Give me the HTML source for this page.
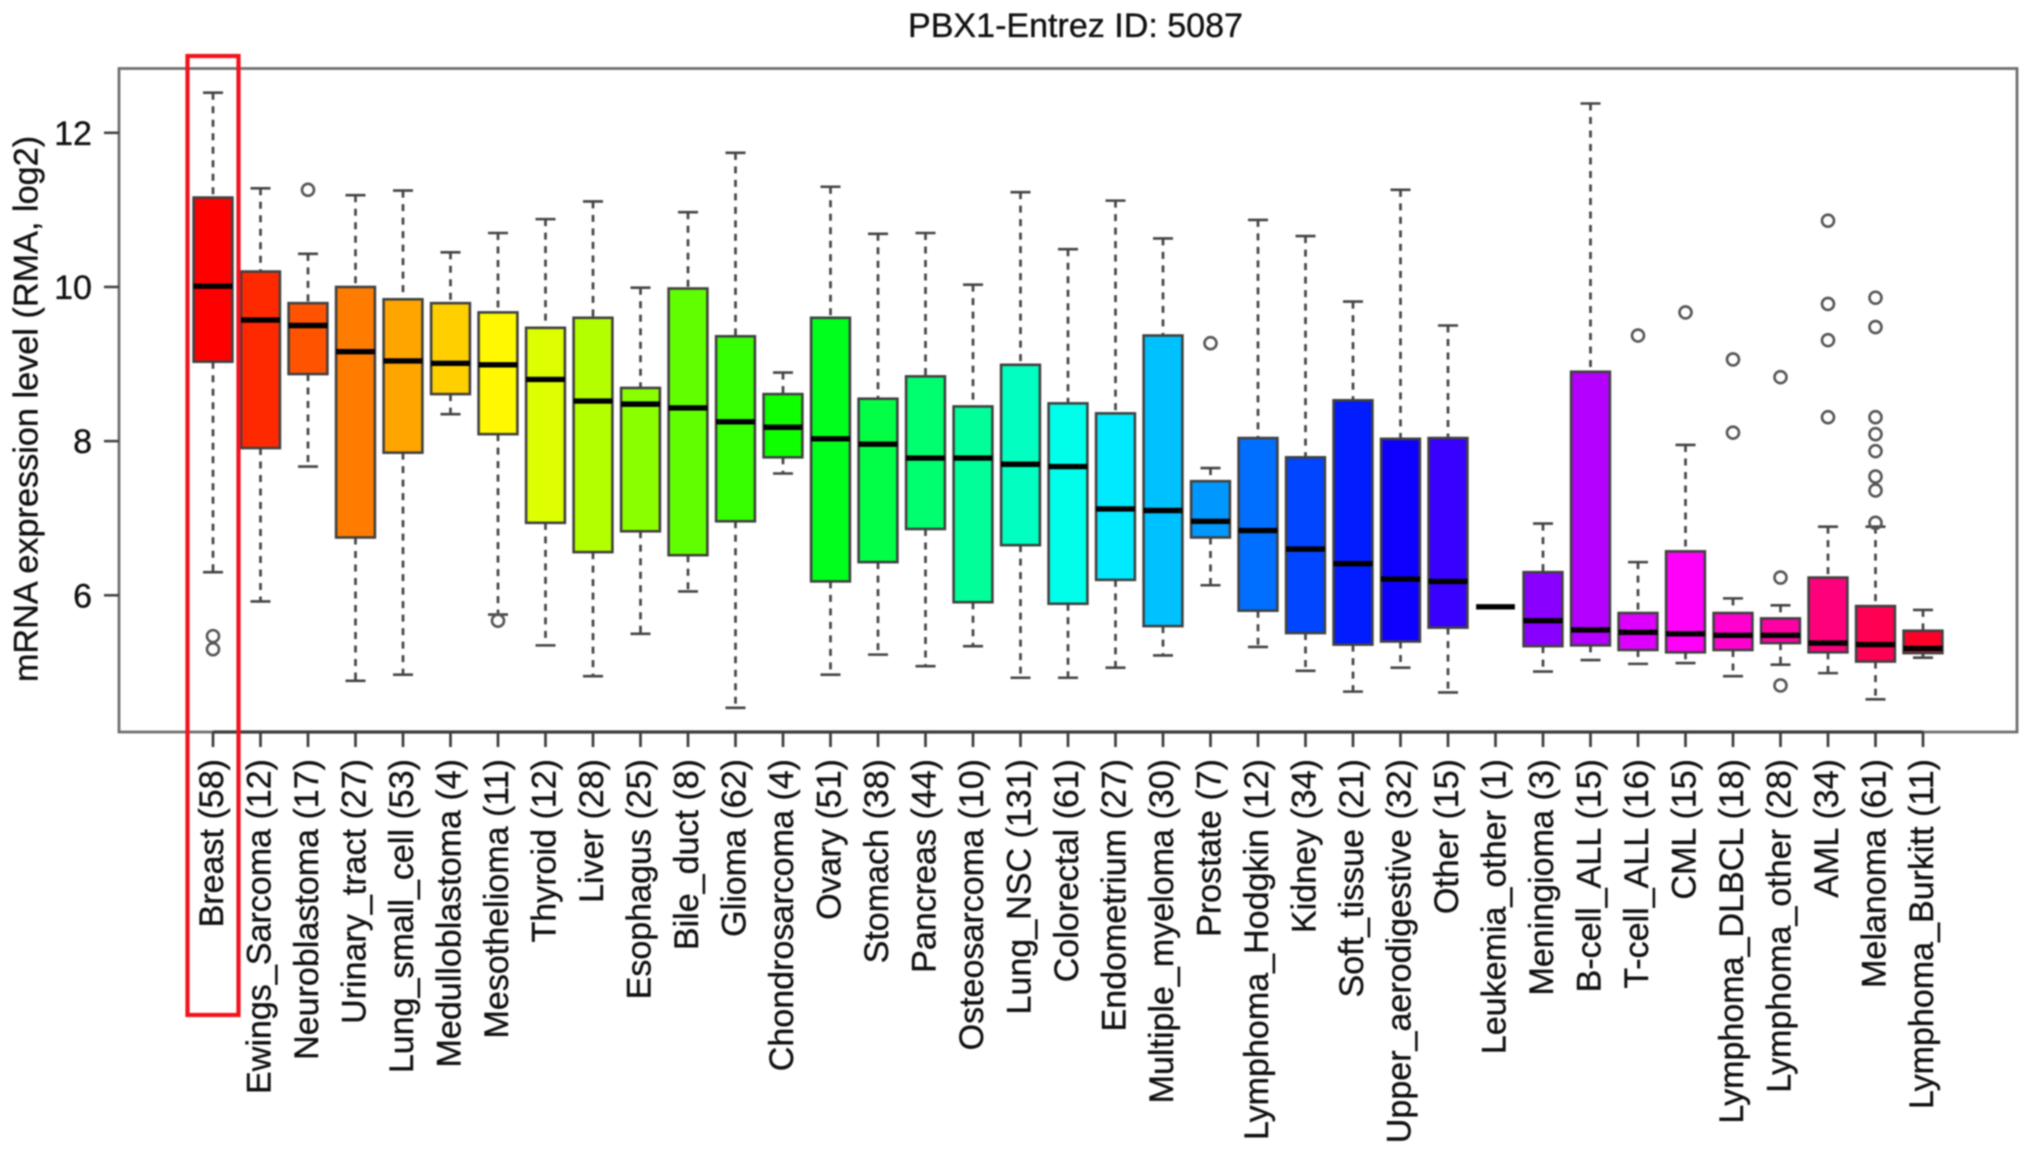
<!DOCTYPE html>
<html lang="en">
<head>
<meta charset="utf-8">
<title>PBX1-Entrez ID: 5087</title>
<style>
  html, body { margin: 0; padding: 0; background: #fff; width: 2032px; height: 1152px; overflow: hidden; }
  svg { display: block; filter: blur(0.7px); }
  text { font-family: "Liberation Sans", sans-serif; font-size: 34.05px; fill: #111; stroke: #111; stroke-width: 0.35px; }
</style>
</head>
<body>
<svg id="chart" xmlns="http://www.w3.org/2000/svg" width="2032" height="1152" viewBox="0 0 2032 1152">
  <rect x="0" y="0" width="2032" height="1152" fill="#fff"/>
  <text x="1075.5" y="37" text-anchor="middle">PBX1-Entrez ID: 5087</text>
  <text transform="translate(37.5 409) rotate(-90)" text-anchor="middle" style="font-size:34.25px">mRNA expression level (RMA, log2)</text>
  <rect x="119" y="68.5" width="1898" height="663.5" fill="none" stroke="#707070" stroke-width="2.8"/>
  <g id="marks"></g>
  <g id="axes"></g>
  <rect x="187.5" y="56" width="51" height="959" fill="none" stroke="#f4121c" stroke-width="4.2"/>
</svg>
<script>
const categories = ["Breast","Ewings_Sarcoma","Neuroblastoma","Urinary_tract","Lung_small_cell","Medulloblastoma","Mesothelioma","Thyroid","Liver","Esophagus","Bile_duct","Glioma","Chondrosarcoma","Ovary","Stomach","Pancreas","Osteosarcoma","Lung_NSC","Colorectal","Endometrium","Multiple_myeloma","Prostate","Lymphoma_Hodgkin","Kidney","Soft_tissue","Upper_aerodigestive","Other","Leukemia_other","Meningioma","B-cell_ALL","T-cell_ALL","CML","Lymphoma_DLBCL","Lymphoma_other","AML","Melanoma","Lymphoma_Burkitt"];
const sampleCounts = [58,12,17,27,53,4,11,12,28,25,8,62,4,51,38,44,10,131,61,27,30,7,12,34,21,32,15,1,3,15,16,15,18,28,34,61,11];
const whiskerHigh = [12.52,11.28,10.43,11.19,11.25,10.45,10.70,10.88,11.11,9.99,10.97,11.74,8.89,11.30,10.69,10.70,10.03,11.23,10.49,11.12,10.63,7.65,10.87,10.66,9.81,11.26,9.50,5.85,6.93,12.38,6.43,7.95,5.96,5.87,6.89,6.89,5.81];
const quartile3 = [11.16,10.20,9.79,10.00,9.84,9.79,9.67,9.47,9.60,8.69,9.98,9.36,8.61,9.60,8.55,8.84,8.45,8.99,8.49,8.36,9.37,7.48,8.04,7.79,8.53,8.03,8.04,5.85,6.30,8.90,5.77,6.57,5.77,5.70,6.23,5.86,5.54];
const medians = [10.01,9.57,9.50,9.16,9.04,9.01,8.99,8.80,8.52,8.48,8.43,8.25,8.18,8.03,7.96,7.78,7.78,7.70,7.67,7.12,7.10,6.96,6.84,6.60,6.41,6.21,6.18,5.85,5.67,5.55,5.52,5.50,5.48,5.48,5.38,5.36,5.31];
const quartile1 = [9.03,7.91,8.87,6.75,7.85,8.61,8.09,6.94,6.56,6.83,6.52,6.96,7.79,6.18,6.43,6.86,5.91,6.65,5.89,6.20,5.60,6.75,5.80,5.51,5.36,5.40,5.58,5.85,5.34,5.35,5.29,5.26,5.29,5.38,5.26,5.14,5.25];
const whiskerLow = [6.30,5.92,7.67,4.89,4.97,8.35,5.75,5.35,4.95,5.50,6.05,4.54,7.58,4.97,5.23,5.08,5.34,4.93,4.93,5.06,5.22,6.13,5.33,5.02,4.75,5.06,4.74,5.85,5.01,5.16,5.11,5.12,4.95,5.10,4.99,4.65,5.19];
const outliers = [[5.47,5.30],[],[11.26],[],[],[],[5.67],[],[],[],[],[],[],[],[],[],[],[],[],[],[],[9.27],[],[],[],[],[],[],[],[],[9.37],[9.67],[9.06,8.11],[8.83,6.23,4.83],[10.86,9.78,9.31,8.31],[9.86,9.48,8.31,8.09,7.87,7.54,7.36,6.94],[]];
const yTicks = [6,8,10,12];

function xScale(i) { return 213 + 47.5 * i; }
function yScale(v) { return 132.8 + (12 - v) * 77.08; }

const NS = "http://www.w3.org/2000/svg";
const marks = document.getElementById("marks");
const axes = document.getElementById("axes");
const BOX_HALF = 19.4;
const CAP_HALF = 10;

function mk(tag, attrs, parent) {
  const el = document.createElementNS(NS, tag);
  for (const k in attrs) el.setAttribute(k, attrs[k]);
  parent.appendChild(el);
  return el;
}

categories.forEach(function (cat, i) {
  const x = xScale(i);
  const slug = cat.toLowerCase().replace(/_/g, "-");
  const hue = i / categories.length * 360;
  const fill = "hsl(" + hue + ",100%,50%)";

  const upper = mk("line", {x1: x, x2: x, y1: yScale(whiskerHigh[i]), y2: yScale(quartile3[i]), stroke: "#444", "stroke-width": 2.7, "stroke-dasharray": "7 6.5"}, marks);
  
  

  const lower = mk("line", {x1: x, x2: x, y1: yScale(quartile1[i]), y2: yScale(whiskerLow[i]), stroke: "#444", "stroke-width": 2.7, "stroke-dasharray": "7 6.5"}, marks);
  
  

  const capHigh = mk("line", {x1: x - CAP_HALF, x2: x + CAP_HALF, y1: yScale(whiskerHigh[i]), y2: yScale(whiskerHigh[i]), stroke: "#444", "stroke-width": 2.6}, marks);
  
  

  const capLow = mk("line", {x1: x - CAP_HALF, x2: x + CAP_HALF, y1: yScale(whiskerLow[i]), y2: yScale(whiskerLow[i]), stroke: "#444", "stroke-width": 2.6}, marks);
  
  

  const box = mk("rect", {x: x - BOX_HALF, width: BOX_HALF * 2, y: yScale(quartile3[i]), height: yScale(quartile1[i]) - yScale(quartile3[i]), fill: fill, stroke: "#404040", "stroke-width": 2.6}, marks);
  
  

  const med = mk("line", {x1: x - BOX_HALF, x2: x + BOX_HALF, y1: yScale(medians[i]), y2: yScale(medians[i]), stroke: "#000", "stroke-width": 5.4}, marks);
  
  

  outliers[i].forEach(function (v) {
    const pt = mk("circle", {cx: x, cy: yScale(v), r: 6, fill: "none", stroke: "#555", "stroke-width": 2.6}, marks);
    
    
  });

  const tick = mk("line", {x1: x, x2: x, y1: 732, y2: 747, stroke: "#3c3c3c", "stroke-width": 2.7}, axes);
  
  

  const label = mk("text", {transform: "translate(" + (x + 10) + " 759) rotate(-90)", "text-anchor": "end"}, axes);
  label.textContent = cat + " (" + sampleCounts[i] + ")";
  
  
});

const xAxisLine = mk("line", {x1: xScale(0), x2: xScale(categories.length - 1), y1: 732, y2: 732, stroke: "#3c3c3c", "stroke-width": 3.2}, axes);



yTicks.forEach(function (v) {
  const y = yScale(v);
  const t = mk("line", {x1: 104, x2: 119, y1: y, y2: y, stroke: "#444", "stroke-width": 2.6}, axes);
  
  
  const lab = mk("text", {x: 92, y: y + 12, "text-anchor": "end"}, axes);
  lab.textContent = String(v);
  
  
});
</script>
</body>
</html>
